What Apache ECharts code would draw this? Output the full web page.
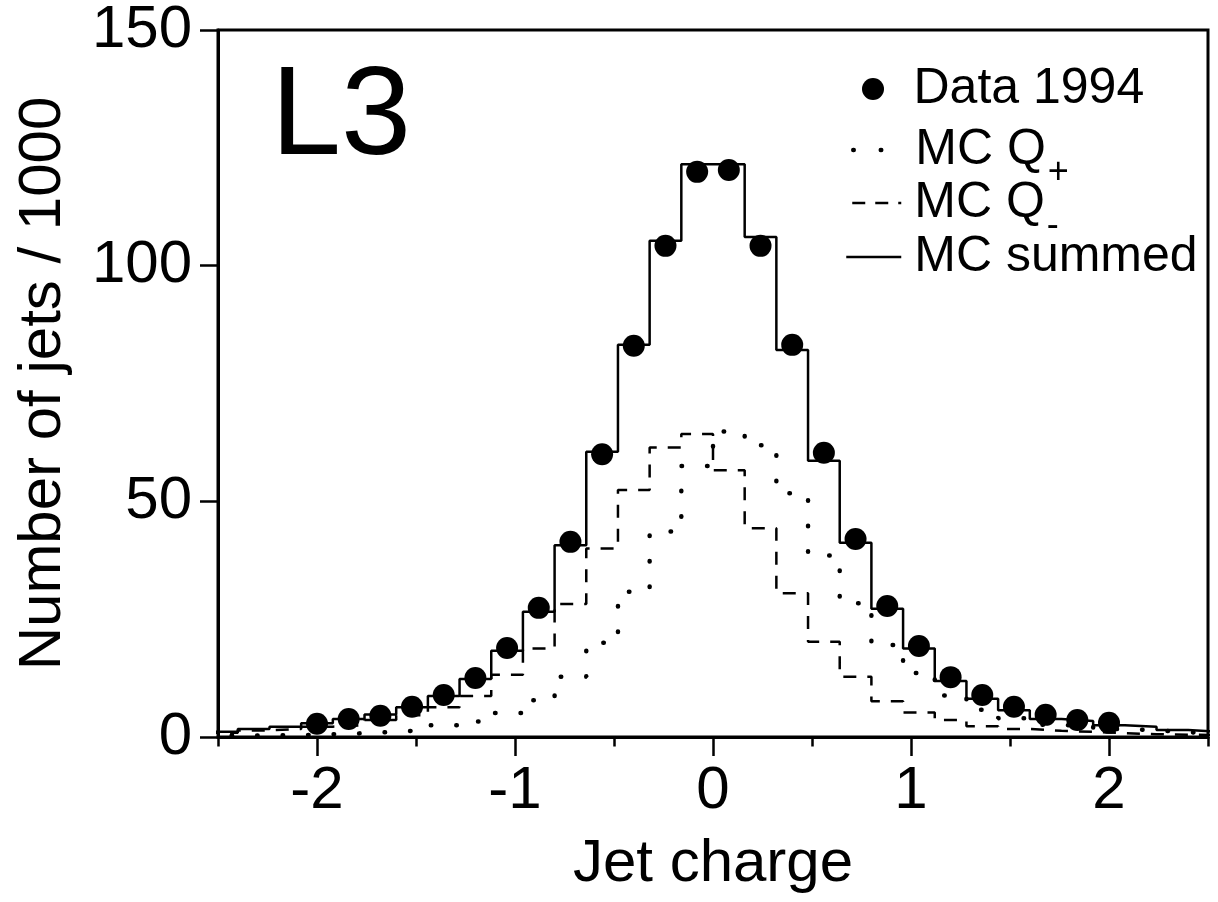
<!DOCTYPE html>
<html>
<head>
<meta charset="utf-8">
<script src="https://cdn.jsdelivr.net/npm/echarts@6/dist/echarts.min.js"></script>
<style>
html,body{margin:0;padding:0;background:#fff;}
#chart{width:1218px;height:902px;}
</style>
</head>
<body>
<div id="chart"></div>
<script>
// Histogram bin centres (bin width 0.16)
const binCenters = [-2.48,-2.32,-2.16,-2.00,-1.84,-1.68,-1.52,-1.36,-1.20,-1.04,-0.88,-0.72,-0.56,-0.40,-0.24,-0.08,
                     0.08, 0.24, 0.40, 0.56, 0.72, 0.88, 1.04, 1.20, 1.36, 1.52, 1.68, 1.84, 2.00, 2.16, 2.32, 2.48];
const binWidth = 0.16;
// MC Q+ (dotted)
const mcQplus  = [0.3,0.35,0.4,0.6,0.8,1.1,1.5,2.5,3.3,5.1,7.8,12.8,20.0,30.8,43.6,57.5,
                  64.8,61.9,51.7,38.5,28.4,19.5,13.6,8.8,5.8,4.0,2.6,2.2,1.7,1.4,1.0,0.7];
// MC Q- (dashed)
const mcQminus = [0.9,1.4,1.7,2.2,2.5,3.6,4.6,6.3,8.7,13.2,18.8,28.2,40.0,52.4,61.4,64.3,
                  56.6,44.3,30.5,20.2,12.8,7.6,5.2,3.6,2.3,1.7,1.3,1.1,0.8,0.6,0.5,0.4];
// MC summed (solid)
const mcSummed = [1.1,1.7,2.2,2.9,3.8,4.8,6.3,8.7,12.3,18.3,26.6,40.7,60.5,83.2,105.3,121.5,
                  121.5,106.1,82.1,58.6,41.2,27.2,18.8,11.9,8.1,5.7,3.8,3.4,2.5,2.2,1.5,1.1];
// Data 1994
const dataX = [-2.00,-1.84,-1.68,-1.52,-1.36,-1.20,-1.04,-0.88,-0.72,-0.56,-0.40,-0.24,-0.08,
                0.08, 0.24, 0.40, 0.56, 0.72, 0.88, 1.04, 1.20, 1.36, 1.52, 1.68, 1.84, 2.00];
const dataY = [2.8,3.8,4.5,6.4,8.9,12.5,18.9,27.4,41.4,60.0,83.0,104.2,119.9,
               120.3,104.2,83.2,60.3,42.0,27.8,19.3,12.7,8.9,6.4,4.7,3.6,3.0];
const xMajorTicks = [-2,-1,0,1,2];

function histPoints(vals){
  const pts = binCenters.map((c,i)=>[c - binWidth/2, vals[i]]);
  const n = binCenters.length;
  pts.push([binCenters[n-1] + binWidth/2, vals[n-1]]);
  return pts;
}

const FONT = 'Liberation Sans, Arial, Helvetica, sans-serif';
const chart = echarts.init(document.getElementById('chart'), null, {renderer:'canvas'});

const legendRich = {
  m:{fontFamily:FONT, fontSize:50, color:'#000', padding:[0,0,0,8]},
  sub:{fontFamily:FONT, fontSize:36, color:'#000', padding:[46,0,0,2]}
};
function legendBase(extra){
  return Object.assign({
    orient:'vertical', left:845, padding:0, itemWidth:55, itemHeight:22,
    textStyle:{fontFamily:FONT, fontSize:50, color:'#000', rich:legendRich},
    selectedMode:false
  }, extra);
}

const option = {
  animation:false,
  backgroundColor:'#fff',
  title:{ text:'L3', left:271, top:56, padding:0,
    textStyle:{fontFamily:FONT, fontSize:126, fontWeight:'normal', color:'#000'} },
  legend:[
    legendBase({top:64, left:862, data:['Data 1994'], formatter:()=>'Data 1994',
      textStyle:{fontFamily:FONT, fontSize:50, color:'#000', padding:[0,0,0,8]}}),
    legendBase({top:125, data:['MC Q+'], formatter:()=>'{m|MC Q}{sub|+}',
      itemStyle:{opacity:0},
      lineStyle:{color:'#000', width:4.5, type:[0.5,27], cap:'round', dashOffset:-6}}),
    legendBase({top:178, data:['MC Q-'], formatter:()=>'{m|MC Q}{sub|-}',
      itemStyle:{opacity:0},
      lineStyle:{color:'#000', width:2.5, type:[13,10]}}),
    legendBase({top:232, data:['MC summed'], formatter:()=>'{m|MC summed}',
      itemStyle:{opacity:0},
      lineStyle:{color:'#000', width:2.5, type:'solid'}})
  ],
  grid:{ left:218, right:10, top:30, bottom:165, show:true, borderColor:'#000', borderWidth:3, backgroundColor:'transparent' },
  xAxis:[
    { type:'value', min:-2.5, max:2.5, interval:0.5,
      name:'Jet charge', nameLocation:'middle', nameGap:97,
      nameTextStyle:{fontFamily:FONT, fontSize:60, color:'#000'},
      axisLine:{show:true, onZero:false, lineStyle:{color:'#000', width:3}},
      axisTick:{show:true, length:19, lineStyle:{color:'#000', width:2.5}, customValues:xMajorTicks},
      axisLabel:{show:true, margin:24, fontFamily:FONT, fontSize:60, color:'#000', customValues:xMajorTicks,
        formatter:v=>String(v)},
      splitLine:{show:false} },
    { type:'value', min:-2.5, max:2.5, interval:0.5, position:'bottom',
      axisLine:{show:false, onZero:false}, axisLabel:{show:false}, splitLine:{show:false},
      axisTick:{show:true, length:9.5, lineStyle:{color:'#000', width:2.5}} }
  ],
  yAxis:{ type:'value', min:0, max:150, interval:50,
    name:'Number of jets / 1000', nameLocation:'middle', nameGap:145,
    nameTextStyle:{fontFamily:FONT, fontSize:60, color:'#000'},
    axisLine:{show:true, onZero:false, lineStyle:{color:'#000', width:3}},
    axisTick:{show:true, length:18, lineStyle:{color:'#000', width:2.5}},
    axisLabel:{margin:26, fontFamily:FONT, fontSize:60, color:'#000'},
    splitLine:{show:false} },
  series:[
    { name:'MC Q+', type:'line', step:'end', xAxisIndex:0, data:histPoints(mcQplus),
      symbol:'none', clip:true, color:'#000',
      lineStyle:{color:'#000', width:4.5, type:[0.5,25], cap:'round'} },
    { name:'MC Q-', type:'line', step:'end', xAxisIndex:0, data:histPoints(mcQminus),
      symbol:'none', clip:true, color:'#000',
      lineStyle:{color:'#000', width:2.5, type:[13,11]} },
    { name:'MC summed', type:'line', step:'end', xAxisIndex:0, data:histPoints(mcSummed),
      symbol:'none', clip:true, color:'#000',
      lineStyle:{color:'#000', width:2.5, type:'solid'} },
    { name:'Data 1994', type:'scatter', xAxisIndex:0, data:dataX.map((x,i)=>[x, dataY[i]]),
      symbol:'circle', symbolSize:22, itemStyle:{color:'#000', opacity:1}, z:5 }
  ]
};
chart.setOption(option);
</script>
</body>
</html>
